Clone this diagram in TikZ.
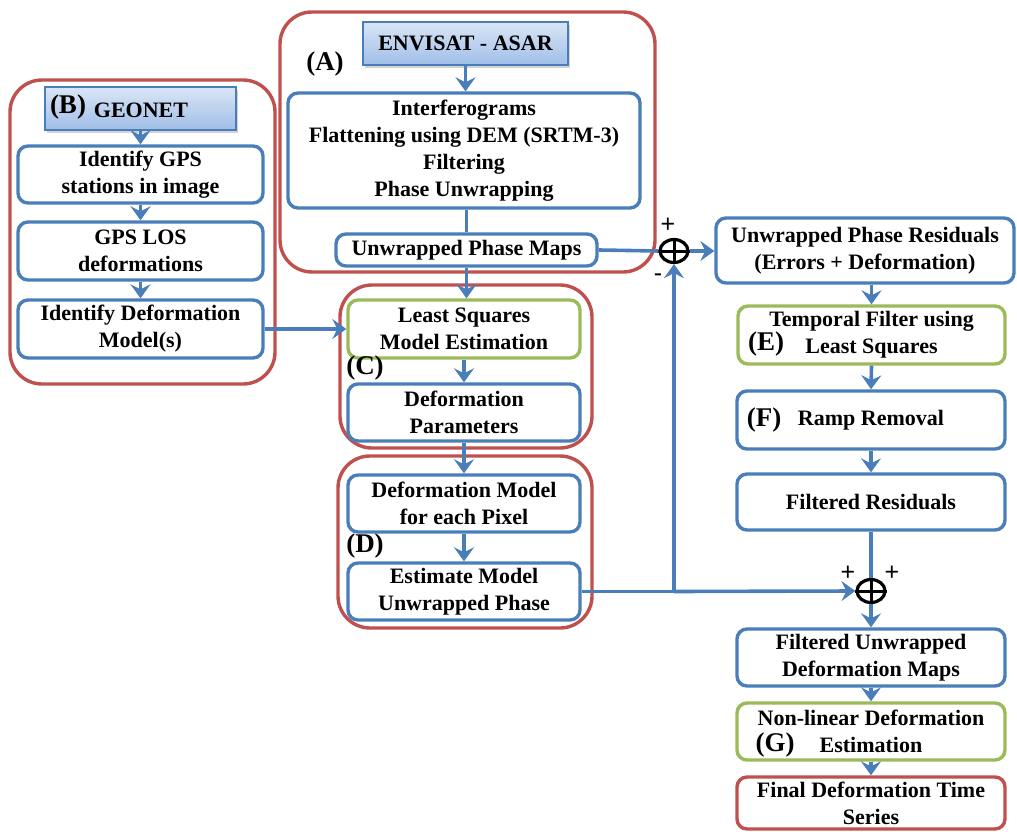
\documentclass[tikz,border=0pt]{standalone}
\usepackage{fontspec}
\setmainfont{Liberation Serif}
\newfontfamily\plusfont{Liberation Sans}
\usetikzlibrary{arrows.meta,shadows,shapes.geometric}
\definecolor{boxblue}{RGB}{74,126,187}
\definecolor{boxred}{RGB}{192,80,77}
\definecolor{boxgreen}{RGB}{155,187,89}
\definecolor{srctop}{RGB}{218,230,246}
\definecolor{srcbot}{RGB}{160,190,232}
\newcommand\mybox[7]{\node[#2, minimum width={#5-#3}, minimum height={#6-#4}] (#1) at ({(#3+#5)/2},{(#4+#6)/2}) {#7};}
\begin{document}
\begin{tikzpicture}[x=1pt,y=-1pt,
  txt/.style={font=\bfseries\fontsize{22}{27}\selectfont, align=center, inner sep=0pt},
  bluebox/.style={txt, draw=boxblue, line width=3.4pt, rounded corners=10pt, fill=white},
  greenbox/.style={bluebox, draw=boxgreen},
  redbox/.style={bluebox, draw=boxred},
  group/.style={draw=boxred, line width=3.4pt, rounded corners=32pt, inner sep=0pt},
  source/.style={txt, draw=boxblue, line width=2.2pt, top color=srctop, bottom color=srcbot,
     drop shadow={opacity=0.35, shadow xshift=2pt, shadow yshift=-3pt}},
  arr/.style={draw=boxblue, line width=3.6pt, -{Stealth[length=14pt,width=20pt,inset=5pt]}},
  ln/.style={draw=boxblue, line width=3.6pt},
  lab/.style={font=\bfseries\fontsize{27}{30}\selectfont, inner sep=0pt},
  sign/.style={font=\plusfont\fontsize{25}{25}\selectfont, inner sep=0pt},
  summer/.style={draw=black, ellipse, line width=3.2pt, minimum width=28pt, minimum height=23pt, inner sep=0pt},
]
\useasboundingbox (0,0) rectangle (1017,832);
% groups
\mybox{gA}{group}{280}{12}{655}{272}{}
\mybox{gB}{group}{10}{80}{275}{384}{}
\mybox{gC}{group}{340}{285}{592}{448}{}
\mybox{gD}{group}{338}{456}{592}{628}{}
% boxes
\mybox{envisat}{source}{363}{22}{568}{65}{ENVISAT - ASAR}
\mybox{interf}{bluebox}{288}{93}{640}{208}{Interferograms\\Flattening using DEM (SRTM-3)\\Filtering\\Phase Unwrapping}
\mybox{upm}{bluebox}{336}{234}{597}{266}{Unwrapped Phase Maps}
\mybox{geonet}{source}{45}{87}{236}{130}{}
\mybox{ig}{bluebox}{18}{146}{263}{203}{Identify GPS\\stations in image}
\mybox{los}{bluebox}{18}{222}{263}{280}{GPS LOS\\deformations}
\mybox{idm}{bluebox}{18}{300}{263}{358}{Identify Deformation\\Model(s)}
\mybox{ls}{greenbox}{348}{300}{580}{358}{Least Squares\\Model Estimation}
\mybox{dp}{bluebox}{348}{384}{580}{441}{Deformation\\Parameters}
\mybox{dm}{bluebox}{348}{475}{580}{532}{Deformation Model\\for each Pixel}
\mybox{em}{bluebox}{348}{563}{580}{620}{Estimate Model\\Unwrapped Phase}
\mybox{res}{bluebox}{716}{218}{1014}{283}{Unwrapped Phase Residuals\\(Errors + Deformation)}
\mybox{tf}{greenbox}{738}{306}{1005}{364}{Temporal Filter using\\Least Squares}
\mybox{rr}{bluebox}{737}{391}{1005}{449}{Ramp Removal}
\mybox{fr}{bluebox}{737}{474}{1005}{530}{Filtered Residuals}
\mybox{fu}{bluebox}{737}{629}{1005}{686}{Filtered Unwrapped\\Deformation Maps}
\mybox{nl}{greenbox}{737}{703}{1005}{760}{Non-linear Deformation\\Estimation}
\mybox{fin}{redbox}{737}{777}{1005}{829}{Final Deformation Time\\Series}
% GEONET text
\node[txt] (geonettxt) at (141,110) {GEONET};
% labels
\node[lab] (labA) at (325,64) {(A)};
\node[lab] (labB) at (68,107) {(B)};
\node[lab] (labC) at (365,368) {(C)};
\node[lab] (labD) at (365,546) {(D)};
\node[lab] (labE) at (766,344) {(E)};
\node[lab] (labF) at (764,420) {(F)};
\node[lab] (labG) at (775,745) {(G)};
% summing junctions
\node[summer] (s1) at (674,251) {};
\draw[line width=3pt] (s1.north) -- (s1.south) (s1.west) -- (s1.east);
\node[summer] (s2) at (871,591) {};
\draw[line width=3pt] (s2.north) -- (s2.south) (s2.west) -- (s2.east);
\node[sign] (p1) at (668,225) {+};
\node[sign] (m1) at (658,278) {-};
\node[sign] (p2) at (848,573) {+};
\node[sign] (p3) at (892,573) {+};
% connectors
\draw[arr] (envisat.south) -- (envisat.south |- interf.north);
\draw[ln] (interf.south -| upm) -- (upm.north);
\draw[arr] (upm.south) -- (upm.south |- ls.north);
\draw[ln] (upm.east) -- (s1.west);
\draw[arr] (s1.east) -- (s1.east -| res.west);
\draw[arr] (geonet.south) -- (geonet.south |- ig.north);
\draw[arr] (ig.south) -- (los.north);
\draw[arr] (los.south) -- (idm.north);
\draw[arr] (idm.east) -- (ls.west);
\draw[arr] (ls.south) -- (dp.north);
\draw[arr] (dp.south) -- (dm.north);
\draw[arr] (dm.south) -- (em.north);
\coordinate (j) at (em.east -| s1);
\draw[ln] (em.east) -- (j);
\draw[arr] (j) -- (s2.west);
\draw[arr] (j) -- (s1.south);
\draw[arr] (res.south -| tf) -- (tf.north);
\draw[arr] (tf.south) -- (rr.north);
\draw[arr] (rr.south) -- (fr.north);
\draw[ln] (fr.south) -- (s2.north);
\draw[arr] (s2.south) -- (fu.north);
\draw[arr] (fu.south) -- (nl.north);
\draw[arr] (nl.south) -- (fin.north);
\end{tikzpicture}
\end{document}
